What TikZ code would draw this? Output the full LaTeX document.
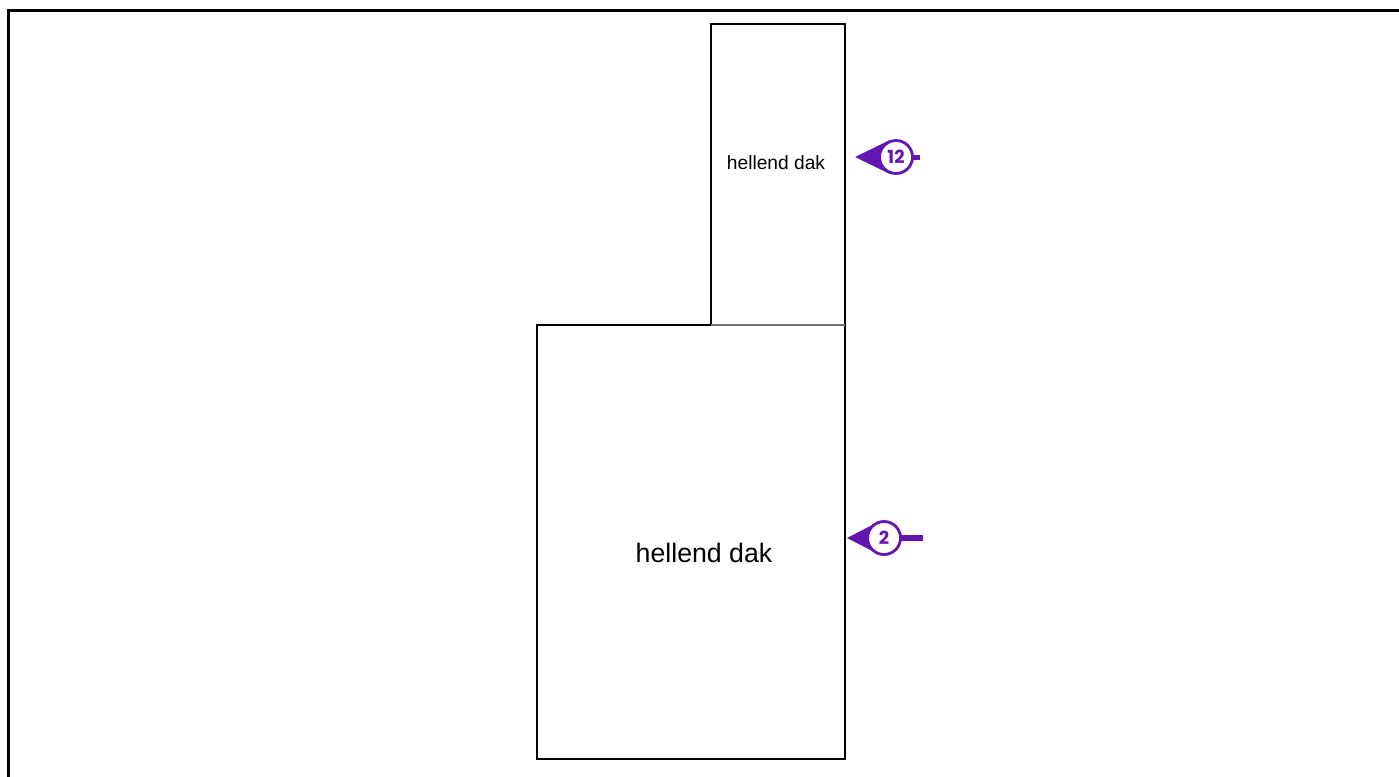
\documentclass[tikz,border=0pt]{standalone}
\usepackage{fontspec}
\setmainfont{Liberation Sans}
\newfontfamily\markfont{Poppins}
\definecolor{pinpurple}{RGB}{100,22,178}
\begin{document}
\begin{tikzpicture}[x=1pt,y=-1pt,
  roof/.style={draw=black,line width=1.4pt},
  lbl/.style={inner sep=0pt,anchor=center},
  pin/.style={circle,draw=pinpurple,fill=white,line width=2.8pt,minimum size=33pt,inner sep=0pt,font=\markfont\bfseries\fontsize{18}{18}\selectfont,text=pinpurple}]
\useasboundingbox (0,0) rectangle (1399,776);
\draw[line width=3pt] (8.5,800) -- (8.5,10.5) -- (1420,10.5);
% boxes
\draw[roof] (711,325) -- (711,24) -- (845,24) -- (845,325);
\draw[roof] (711,325) -- (537,325) -- (537,759) -- (845,759) -- (845,325);
\draw[draw=black!55,line width=1.4pt] (711,325) -- (845,325);
\node[lbl,font=\fontsize{19.2}{19.2}\selectfont] (t1) at (776,163) {hellend dak};
\node[lbl,font=\fontsize{26.7}{26.7}\selectfont] (t2) at (704,553) {hellend dak};
% marker 12
\coordinate (p12) at (855,157);
\fill[pinpurple] (p12) -- (890,140) -- (890,174) -- cycle;
\draw[pinpurple,line width=5pt] (905,157) -- (920,157);
\node[pin] (m12) at (896,157) {12};
% marker 2
\coordinate (p2) at (847,538);
\fill[pinpurple] (p2) -- (880,521) -- (880,555) -- cycle;
\draw[pinpurple,line width=6pt] (895,538) -- (923,538);
\node[pin] (m2) at (884,538) {2};
\end{tikzpicture}
\end{document}
